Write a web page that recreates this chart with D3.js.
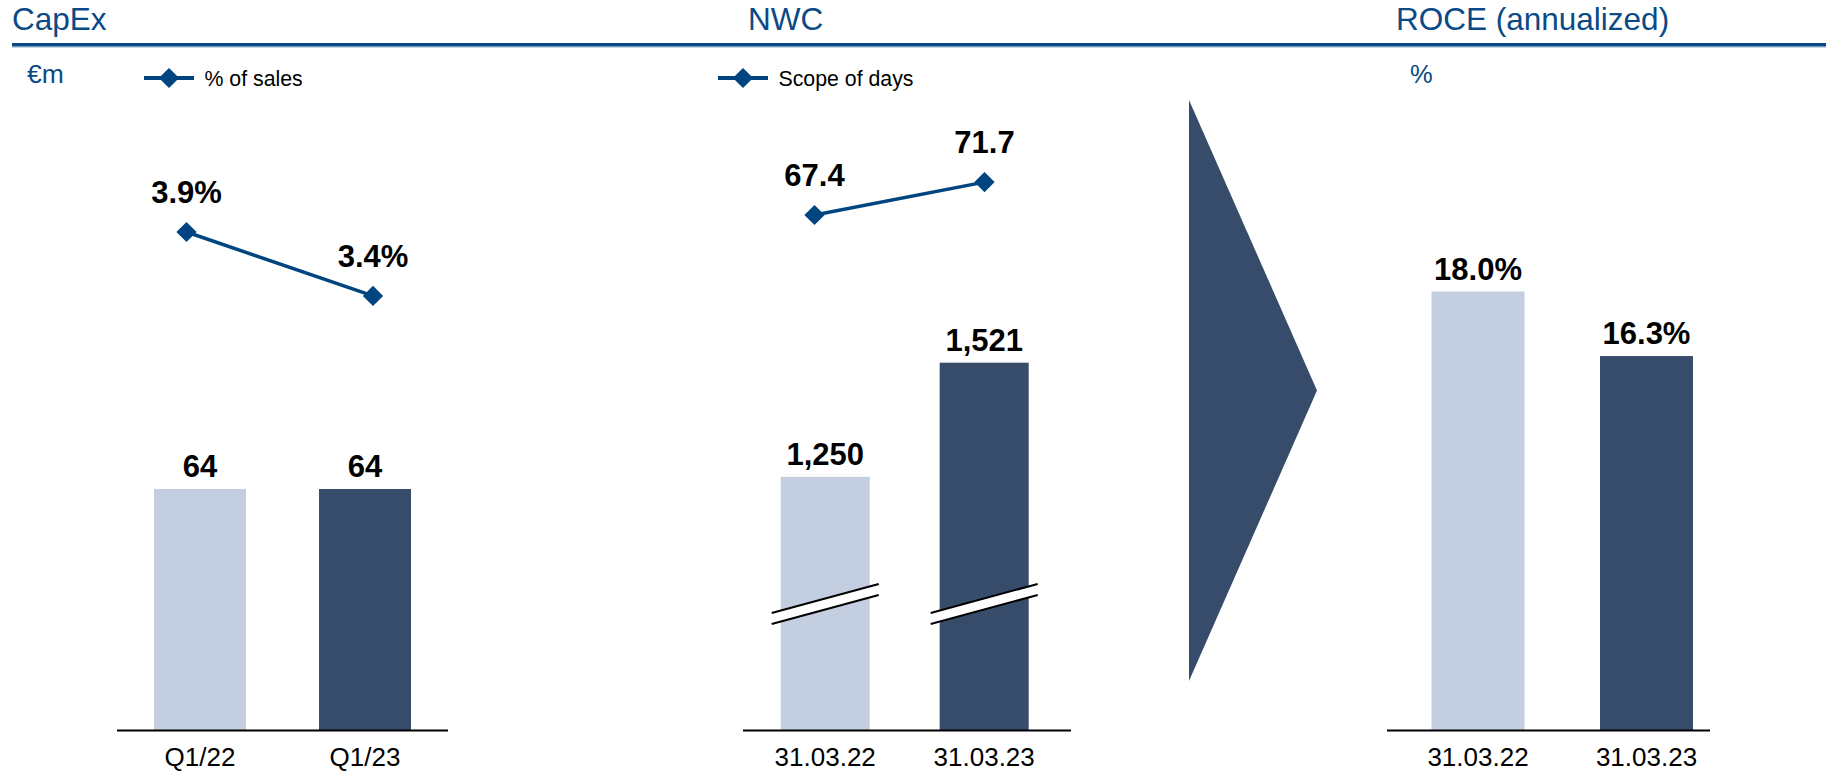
<!DOCTYPE html>
<html>
<head>
<meta charset="utf-8">
<script src="https://cdn.jsdelivr.net/npm/d3@7"></script>
<style>
  html, body { margin: 0; padding: 0; background: #ffffff; }
  svg { display: block; font-family: Arial, "Liberation Sans", Helvetica, sans-serif; }
</style>
</head>
<body>
<svg id="chart" width="1835" height="771"></svg>
<script>
// ---- data ----
const capexCategories = ["Q1/22", "Q1/23"];
const capexValues = [64, 64];
const capexSalesPct = [3.9, 3.4];

const nwcCategories = ["31.03.22", "31.03.23"];
const nwcValues = [1250, 1521];
const nwcScopeDays = [67.4, 71.7];

const roceCategories = ["31.03.22", "31.03.23"];
const roceValues = [18.0, 16.3];

const panelTitles = ["CapEx", "NWC", "ROCE (annualized)"];
const legendLabels = ["% of sales", "Scope of days"];
const unitLabels = ["€m", "%"];

// ---- styles ----
const TITLE_BLUE = "#0b4a86";
const LINE_BLUE = "#00457f";
const BAR_LIGHT = "#c3cee1";
const BAR_DARK = "#374c6b";
const barColors = [BAR_LIGHT, BAR_DARK];

const svg = d3.select("#chart");
const AXIS_Y = 730.5;

// header: titles and rule
const titleX = [12, 748, 1396];
svg.selectAll("text.title")
  .data(panelTitles)
  .join("text")
  .attr("class", "title")
  .attr("x", (d, i) => titleX[i])
  .attr("y", 30)
  .attr("font-size", 31.5)
  .attr("fill", TITLE_BLUE)
  .text(d => d);

svg.append("rect")
  .attr("x", 12).attr("y", 43)
  .attr("width", 1814).attr("height", 3.6)
  .attr("fill", TITLE_BLUE);
svg.append("rect")
  .attr("x", 12).attr("y", 46.6)
  .attr("width", 1814).attr("height", 0.9)
  .attr("fill", "#8aa6c8");

// unit labels
const unitX = [27, 1410];
const unitSize = [26.5, 25.5];
svg.selectAll("text.unit")
  .data(unitLabels)
  .join("text")
  .attr("class", "unit")
  .attr("x", (d, i) => unitX[i])
  .attr("y", 82.5)
  .attr("font-size", (d, i) => unitSize[i])
  .attr("fill", TITLE_BLUE)
  .text(d => d);

// diamond marker shape
const diamond = d3.symbol().type(d3.symbolSquare).size(205);

// legends
const legendX = [144, 718];
legendLabels.forEach((label, i) => {
  const g = svg.append("g").attr("transform", `translate(${legendX[i]},78)`);
  g.append("line").attr("x1", 0).attr("x2", 50).attr("y1", 0).attr("y2", 0)
    .attr("stroke", LINE_BLUE).attr("stroke-width", 4);
  g.append("path").attr("d", diamond())
    .attr("transform", "translate(25,0) rotate(45)")
    .attr("fill", LINE_BLUE);
  g.append("text").attr("x", 60.5).attr("y", 8)
    .attr("font-size", 21.3).attr("fill", "#000").text(label);
});

// generic bar panel
function drawPanel(cfg) {
  const g = svg.append("g");
  const x = d3.scaleBand()
    .domain(cfg.categories)
    .range(cfg.barRange)
    .paddingInner(cfg.padInner)
    .paddingOuter(0);

  const y = d3.scaleLinear().domain(cfg.yDomain).range(cfg.yRange);
  const rows = cfg.categories.map((c, i) => ({ c, v: cfg.values[i], i }));

  // bars
  g.selectAll("rect.bar")
    .data(rows)
    .join("rect")
    .attr("class", "bar")
    .attr("x", d => x(d.c))
    .attr("width", x.bandwidth())
    .attr("y", d => y(d.v))
    .attr("height", d => AXIS_Y - y(d.v))
    .attr("fill", d => barColors[d.i]);

  // axis break marks across the bars
  if (cfg.breakY) {
    const ext = 9, half = 5.5, slope = 0.272;
    rows.forEach(d => {
      const x0 = x(d.c) - ext, x1 = x(d.c) + x.bandwidth() + ext;
      const cx = (x0 + x1) / 2;
      const yAt = (xx, off) => cfg.breakY + off - slope * (xx - cx);
      g.append("path")
        .attr("d", `M${x0},${yAt(x0, -half)}L${x1},${yAt(x1, -half)}L${x1},${yAt(x1, half)}L${x0},${yAt(x0, half)}Z`)
        .attr("fill", "#ffffff");
      [-half, half].forEach(off => {
        g.append("line")
          .attr("x1", x0).attr("y1", yAt(x0, off))
          .attr("x2", x1).attr("y2", yAt(x1, off))
          .attr("stroke", "#000").attr("stroke-width", 2);
      });
    });
  }

  // value labels
  g.selectAll("text.val")
    .data(rows)
    .join("text")
    .attr("class", "val")
    .attr("x", d => x(d.c) + x.bandwidth() / 2)
    .attr("y", d => y(d.v) - 12)
    .attr("text-anchor", "middle")
    .attr("font-size", 31)
    .attr("font-weight", "bold")
    .attr("fill", "#000")
    .text(d => cfg.format(d.v));

  // baseline
  g.append("line")
    .attr("x1", cfg.axisExtent[0]).attr("x2", cfg.axisExtent[1])
    .attr("y1", AXIS_Y).attr("y2", AXIS_Y)
    .attr("stroke", "#000").attr("stroke-width", 2);

  // category axis
  const ax = g.append("g")
    .attr("transform", `translate(0,${AXIS_Y})`)
    .call(d3.axisBottom(x).tickSize(0));
  ax.select(".domain").remove();
  ax.selectAll("text")
    .attr("y", 35).attr("dy", null)
    .attr("font-size", 26)
    .attr("font-family", "Arial, 'Liberation Sans', sans-serif")
    .attr("fill", "#000");

  // KPI line with diamonds
  if (cfg.line) {
    const L = cfg.line;
    const lx = d3.scalePoint().domain(cfg.categories).range(L.xRange);
    const ly = d3.scaleLinear().domain(L.yDomain).range(L.yRange);
    const pts = cfg.categories.map((c, i) => ({ c, v: L.values[i] }));
    g.append("path")
      .datum(pts)
      .attr("d", d3.line().x(d => lx(d.c)).y(d => ly(d.v)))
      .attr("fill", "none")
      .attr("stroke", LINE_BLUE)
      .attr("stroke-width", 3.5);
    g.selectAll("path.marker")
      .data(pts)
      .join("path")
      .attr("class", "marker")
      .attr("d", diamond())
      .attr("transform", d => `translate(${lx(d.c)},${ly(d.v)}) rotate(45)`)
      .attr("fill", LINE_BLUE);
    g.selectAll("text.lineval")
      .data(pts)
      .join("text")
      .attr("class", "lineval")
      .attr("x", d => lx(d.c))
      .attr("y", d => ly(d.v) - 29)
      .attr("text-anchor", "middle")
      .attr("font-size", 31)
      .attr("font-weight", "bold")
      .attr("fill", "#000")
      .text(d => L.format(d.v));
  }
}

// CapEx
drawPanel({
  categories: capexCategories,
  values: capexValues,
  barRange: [154, 411],
  padInner: 0.4424,
  axisExtent: [117, 448],
  yDomain: [0, 64],
  yRange: [AXIS_Y, 489],
  format: d3.format("d"),
  line: {
    values: capexSalesPct,
    xRange: [186.5, 373],
    yDomain: [0, 3.9],
    yRange: [AXIS_Y, 232],
    format: v => d3.format(".1f")(v) + "%"
  }
});

// NWC (broken value axis)
drawPanel({
  categories: nwcCategories,
  values: nwcValues,
  barRange: [780.7, 1028.7],
  padInner: 0.44,
  axisExtent: [743, 1071],
  yDomain: [648, 1521],
  yRange: [AXIS_Y, 362.7],
  format: d3.format(","),
  breakY: 604,
  line: {
    values: nwcScopeDays,
    xRange: [814.5, 984.5],
    yDomain: [0, 67.4],
    yRange: [AXIS_Y, 215],
    format: d3.format(".1f")
  }
});

// transition arrow between NWC and ROCE
svg.append("path")
  .attr("d", d3.line()([[1189, 100], [1317, 390.5], [1189, 681]]) + "Z")
  .attr("fill", BAR_DARK);

// ROCE
drawPanel({
  categories: roceCategories,
  values: roceValues,
  barRange: [1431.5, 1693],
  padInner: 0.448,
  axisExtent: [1387, 1710],
  yDomain: [6.44, 18.0],
  yRange: [AXIS_Y, 291.5],
  format: v => d3.format(".1f")(v) + "%"
});
</script>
</body>
</html>
